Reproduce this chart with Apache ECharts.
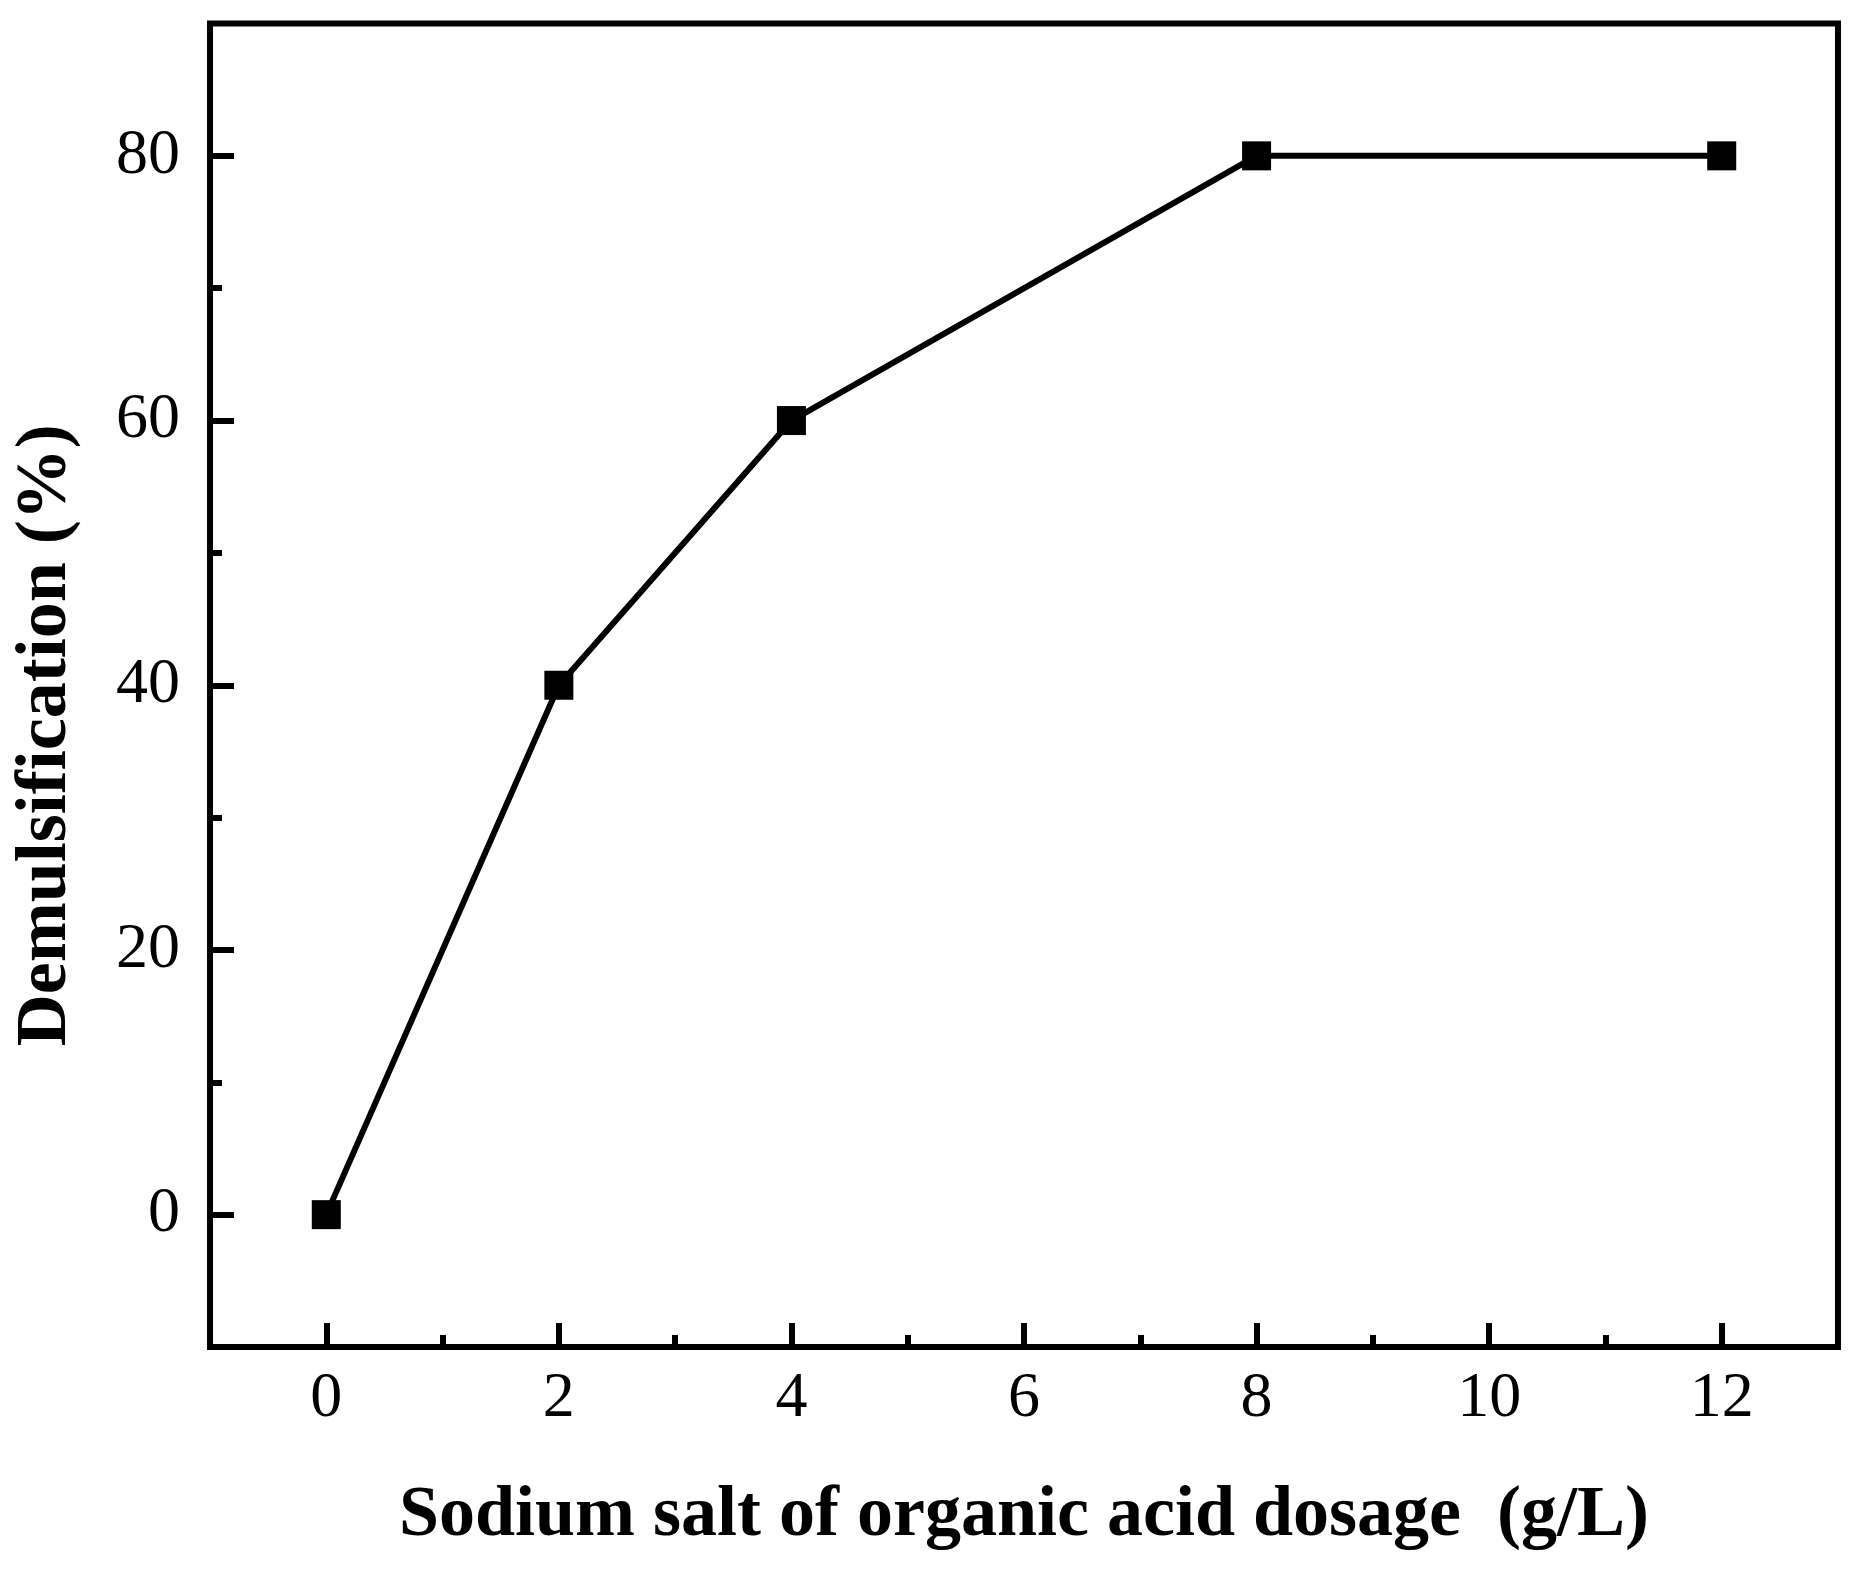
<!DOCTYPE html>
<html>
<head>
<meta charset="utf-8">
<script src="https://cdn.jsdelivr.net/npm/echarts@6/dist/echarts.min.js"></script>
<style>
html,body{margin:0;padding:0;background:#fff;}
#chart{width:1866px;height:1574px;}
</style>
</head>
<body>
<div id="chart"></div>
<script>
const dosage = [0, 2, 4, 8, 12];
const demulsification = [0, 40, 60, 80, 80];
const xMajorTicks = [0, 2, 4, 6, 8, 10, 12];
const xMinorTicks = [1, 3, 5, 7, 9, 11];
const yMajorTicks = [0, 20, 40, 60, 80];
const yMinorTicks = [10, 30, 50, 70];
const xTitle = 'Sodium salt of organic acid dosage  (g/L)';
const yTitle = 'Demulsification (%)';

const FONT = '"Liberation Serif", "Times New Roman", serif';
const chart = echarts.init(document.getElementById('chart'), null, {renderer: 'canvas'});

const xBase = {
  type: 'value', min: -1, max: 13, position: 'bottom',
  splitLine: {show: false}, axisLine: {show: false, onZero: false}
};
const yBase = {
  type: 'value', min: -10, max: 90, position: 'left',
  splitLine: {show: false}, axisLine: {show: false, onZero: false}
};

chart.setOption({
  animation: false,
  backgroundColor: '#fff',
  grid: {
    left: 210, right: 28, top: 23.5, bottom: 227,
    show: true, borderColor: '#000', borderWidth: 6, backgroundColor: 'transparent'
  },
  xAxis: [
    Object.assign({}, xBase, {
      axisTick: {show: true, inside: true, length: 24, customValues: xMajorTicks,
        lineStyle: {color: '#000', width: 6}},
      axisLabel: {show: true, customValues: xMajorTicks, margin: 20,
        color: '#000', fontFamily: FONT, fontSize: 64},
      name: xTitle, nameLocation: 'middle', nameGap: 133,
      nameTextStyle: {color: '#000', fontFamily: FONT, fontSize: 72, fontWeight: 'bold'}
    }),
    Object.assign({}, xBase, {
      axisTick: {show: true, inside: true, length: 12, customValues: xMinorTicks,
        lineStyle: {color: '#000', width: 6}},
      axisLabel: {show: false}
    })
  ],
  yAxis: [
    Object.assign({}, yBase, {
      axisTick: {show: true, inside: true, length: 24, customValues: yMajorTicks,
        lineStyle: {color: '#000', width: 6}},
      axisLabel: {show: true, customValues: yMajorTicks, margin: 30,
        color: '#000', fontFamily: FONT, fontSize: 64},
      name: yTitle, nameLocation: 'middle', nameGap: 128, nameRotate: 90,
      nameTextStyle: {color: '#000', fontFamily: FONT, fontSize: 72, fontWeight: 'bold',
        padding: [0, 100, 0, 0]}
    }),
    Object.assign({}, yBase, {
      axisTick: {show: true, inside: true, length: 12, customValues: yMinorTicks,
        lineStyle: {color: '#000', width: 6}},
      axisLabel: {show: false}
    })
  ],
  series: [{
    type: 'line',
    xAxisIndex: 0, yAxisIndex: 0,
    data: dosage.map((d, i) => [d, demulsification[i]]),
    symbol: 'rect', symbolSize: 29,
    itemStyle: {color: '#000'},
    lineStyle: {color: '#000', width: 6},
    z: 3
  }]
});
</script>
</body>
</html>
